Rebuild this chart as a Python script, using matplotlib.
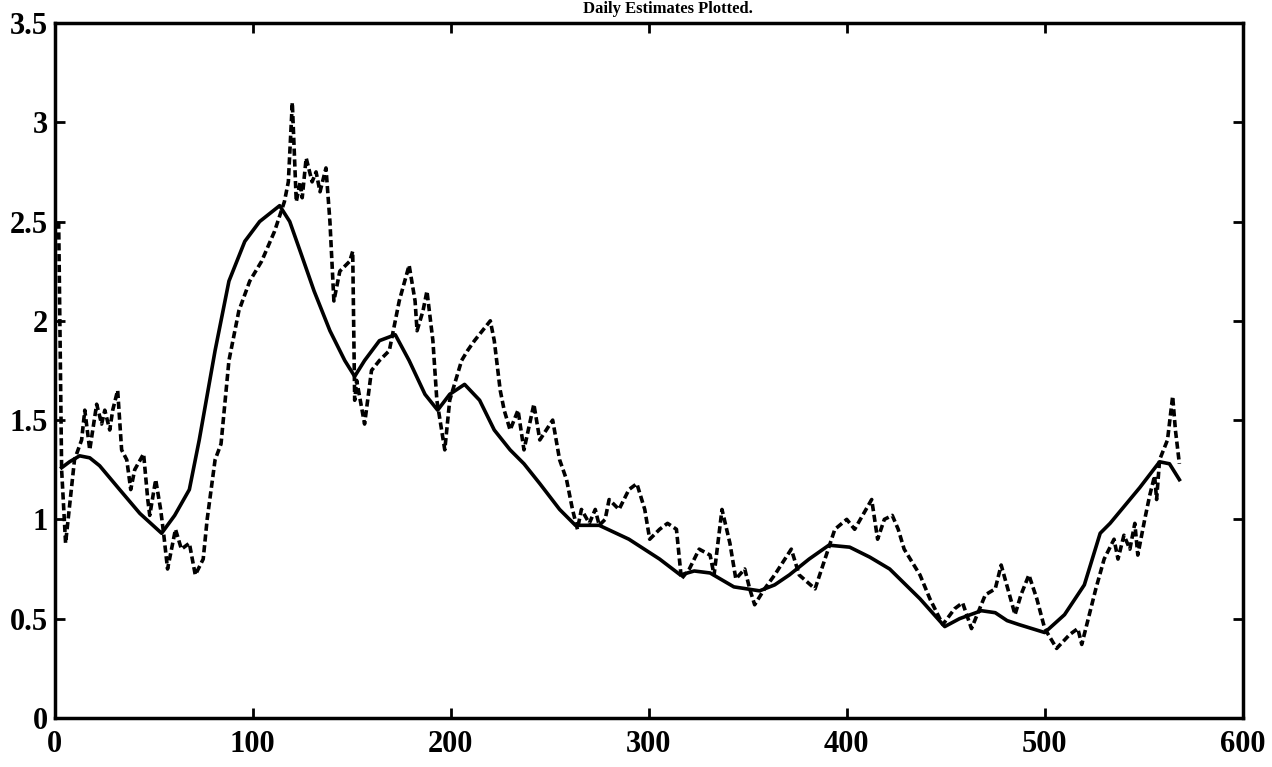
import matplotlib
matplotlib.use('Agg')
import matplotlib.pyplot as plt
from matplotlib.ticker import FuncFormatter

# smooth estimate (solid)
t_smooth = [3.5, 7.5, 12.6, 17.7, 22.7, 32.8, 43, 54, 60.6, 68, 73, 81, 88, 96, 103.5,
            113.6, 118.7, 124, 131, 139, 146.5, 151.5, 156.5, 164, 172, 179, 187, 193.4,
            199.5, 207, 214.6, 222, 230, 237, 245, 255, 263, 275, 290, 305.5, 316, 323,
            331, 343, 356, 363.6, 371, 381, 391, 401.5, 411.6, 421.7, 437, 449.5, 457,
            468, 475, 481, 487, 500, 510, 520, 528, 533, 548, 558, 563, 568]
v_smooth = [1.26, 1.29, 1.32, 1.31, 1.27, 1.15, 1.03, 0.93, 1.02, 1.15, 1.4, 1.85, 2.2, 2.4, 2.5,
            2.58, 2.5, 2.35, 2.15, 1.95, 1.8, 1.72, 1.8, 1.9, 1.93, 1.8, 1.63, 1.55,
            1.63, 1.68, 1.6, 1.45, 1.35, 1.28, 1.18, 1.05, 0.97, 0.97, 0.9, 0.8, 0.72, 0.74,
            0.73, 0.66, 0.64, 0.67, 0.72, 0.8, 0.87, 0.86, 0.81, 0.75, 0.6, 0.46, 0.5,
            0.54, 0.53, 0.49, 0.47, 0.43, 0.52, 0.67, 0.93, 0.98, 1.16, 1.29, 1.28, 1.2]

# raw estimate (dashed)
t_raw = [2, 3.5, 5.5, 10, 13.6, 15.2, 17.7, 21.2, 23.7, 25.3, 27.8, 29.3, 31.8, 33.8, 36.4,
         38.4, 40.4, 44.9, 47, 48, 51, 53.5, 55, 57, 61, 64, 68, 71, 75, 77, 81, 84, 88, 93,
         98.5, 104.5, 111, 116, 118, 120, 122, 124, 125, 127, 130, 132, 134, 137, 139, 141,
         144, 149, 150.5, 151.5, 152.5, 156.5, 160, 164, 169, 171, 174, 179, 182, 183, 186,
         188, 191, 193, 197, 199.5, 205.5, 208.5, 212, 220, 222, 225, 227, 230, 234, 237,
         242, 245, 251.5, 255, 258.5, 261.5, 264, 266, 270, 273, 275, 278, 280, 285, 290,
         294, 298, 300.5, 305.5, 309.5, 314, 316.5, 320.5, 325.5, 331, 333, 337, 341, 344,
         348.5, 351, 353.5, 358.5, 363.6, 372, 376, 384, 389, 394, 400, 404, 412.6, 415.6,
         419, 423, 426, 429, 437, 442, 448.5, 454.5, 458.5, 463, 470, 475, 478, 485, 488,
         492, 496, 500, 506, 512.6, 516.7, 518.7, 525.8, 530, 535, 537, 540, 543, 545.5,
         547, 550.5, 553, 555.5, 556.5, 558, 562, 564.6, 566, 568]
v_raw = [2.5, 1.25, 0.88, 1.3, 1.4, 1.55, 1.35, 1.58, 1.48, 1.55, 1.45, 1.55, 1.65, 1.35, 1.3,
         1.15, 1.25, 1.33, 1.1, 1.02, 1.2, 1.05, 0.93, 0.75, 0.95, 0.85, 0.88, 0.72, 0.8, 1.0,
         1.3, 1.38, 1.8, 2.05,
         2.2, 2.3, 2.45, 2.6, 2.7, 3.1, 2.6, 2.7, 2.62, 2.82, 2.7, 2.75, 2.65, 2.77, 2.5, 2.1,
         2.25, 2.3, 2.35, 1.6, 1.7, 1.48, 1.75, 1.8, 1.85, 1.95, 2.1, 2.28, 2.1, 1.95, 2.05,
         2.15, 1.9, 1.6, 1.35, 1.6, 1.8, 1.85, 1.9, 2.0, 1.9, 1.65, 1.55, 1.45, 1.55, 1.35,
         1.58, 1.4, 1.5, 1.3, 1.2, 1.05, 0.95, 1.05, 0.98, 1.05, 0.97, 1.0, 1.1, 1.05, 1.15,
         1.18, 1.05, 0.9, 0.95, 0.98, 0.95, 0.7, 0.75, 0.85, 0.82, 0.72, 1.05, 0.88, 0.7,
         0.75, 0.65, 0.57, 0.65, 0.72, 0.85, 0.72, 0.65, 0.8, 0.95, 1.0, 0.95, 1.1, 0.9,
         1.0, 1.02, 0.95, 0.85, 0.72, 0.6, 0.47, 0.55, 0.58, 0.45, 0.62, 0.65, 0.77, 0.52, 0.62,
         0.72, 0.6, 0.45, 0.35, 0.42, 0.45, 0.37, 0.65, 0.8, 0.9, 0.8, 0.92, 0.85, 0.98,
         0.82, 1.0, 1.12, 1.22, 1.1, 1.3, 1.4, 1.62, 1.45, 1.28]

title = 'Daily Estimates Plotted.'

plt.rcParams['font.family'] = ['Liberation Serif', 'DejaVu Serif']
plt.rcParams['font.weight'] = 'bold'

fig = plt.figure(figsize=(12.72, 7.67), dpi=100)
ax = fig.add_axes([0.043, 0.064, 0.934, 0.906])

ax.plot(t_raw, v_raw, color='black', linestyle=(0, (2.0, 1.0)), linewidth=2.6)
ax.plot(t_smooth, v_smooth, color='black', linestyle='-', linewidth=2.6)

ax.set_xlim(0, 600)
ax.set_ylim(0, 3.5)
ax.set_xticks(range(0, 601, 100))
ax.set_yticks([0, 0.5, 1, 1.5, 2, 2.5, 3, 3.5])
ax.yaxis.set_major_formatter(FuncFormatter(lambda v, p: '%g' % v))
ax.tick_params(direction='in', length=7, width=2, top=True, right=True,
               labelsize=22)
ax.tick_params(axis='x', pad=9)
ax.tick_params(axis='y', pad=5)
for lbl in ax.get_xticklabels() + ax.get_yticklabels():
    lbl.set_fontweight('bold')
for s in ax.spines.values():
    s.set_linewidth(2.5)

# title squeezed into the thin top margin
fig.text(0.525, 1 - 1 / 767, title, ha='center', va='top',
         fontsize=12, fontweight='bold')

fig.savefig('out.png', dpi=100)
